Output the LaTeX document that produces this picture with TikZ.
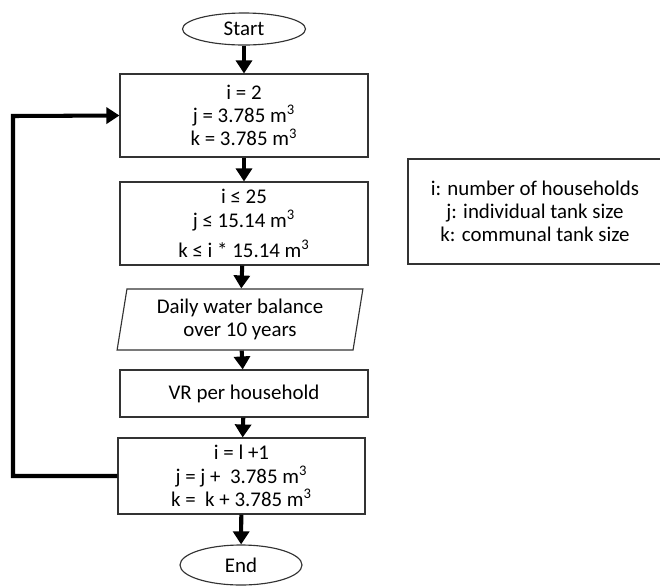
\documentclass[tikz,border=0pt]{standalone}
\usepackage{fontspec}
\setmainfont{Carlito}
\usetikzlibrary{shapes.geometric,arrows.meta}

\begin{document}
\begin{tikzpicture}[x=0.02cm, y=-0.02cm,
        every node/.style={font=\fontsize{11.9}{13.2}\selectfont, align=center, inner sep=0pt},
        box/.style={draw=black!80, line width=0.65pt, rectangle},
        term/.style={draw=black!80, line width=0.65pt, ellipse},
        flow/.style={line width=2.3pt, -{Triangle[length=0.26cm, width=0.32cm]}}]
        \useasboundingbox (0, 0) rectangle (660, 586);

        \node[term, minimum width=2.46cm, minimum height=0.64cm] (start) at (244, 29) {Start};
        \node[box, minimum width=4.96cm, minimum height=1.66cm] (init) at (244, 115.5)
            {i = 2\\ j = 3.785 m\textsuperscript{3}\\ k = 3.785 m\textsuperscript{3}};
        \node[box, minimum width=4.96cm, minimum height=1.66cm] (bounds) at (244, 223.5)
            {i ≤ 25\\ j ≤ 15.14 m\textsuperscript{3}\\[4pt] k ≤ i * 15.14 m\textsuperscript{3}};
        \node[draw=black!80, line width=0.65pt, trapezium, trapezium left angle=80, trapezium right angle=100,
            trapezium stretches=true, minimum width=4.92cm, minimum height=1.22cm] (balance) at (240, 319.5)
            {Daily water balance\\ over 10 years};
        \node[box, minimum width=4.96cm, minimum height=0.94cm] (vr) at (244, 393.5) {VR per household};
        \node[box, minimum width=4.94cm, minimum height=1.52cm] (update) at (241.5, 476)
            {i = l +1\\ j = j +~ 3.785 m\textsuperscript{3}\\ k = ~k + 3.785 m\textsuperscript{3}};
        \node[term, minimum width=2.44cm, minimum height=0.8cm] (end) at (241, 565) {End};

        \node[box, minimum width=5.08cm, minimum height=2.1cm] (legend) at (535, 211.5)
            {i: number of households\\ j: individual tank size\\ k: communal tank size};

        \coordinate (back) at (13, 116);

        \draw[flow] (start) -- (init);
        \draw[flow] (init) -- (bounds);
        \draw[flow] (bounds) -- (balance);
        \draw[flow] (balance) -- (vr);
        \draw[flow] (vr) -- (update);
        \draw[flow] (update) -- (end);
        \draw[flow] (update.west) -| (back) -- (init.west);

    \end{tikzpicture}
\end{document}
